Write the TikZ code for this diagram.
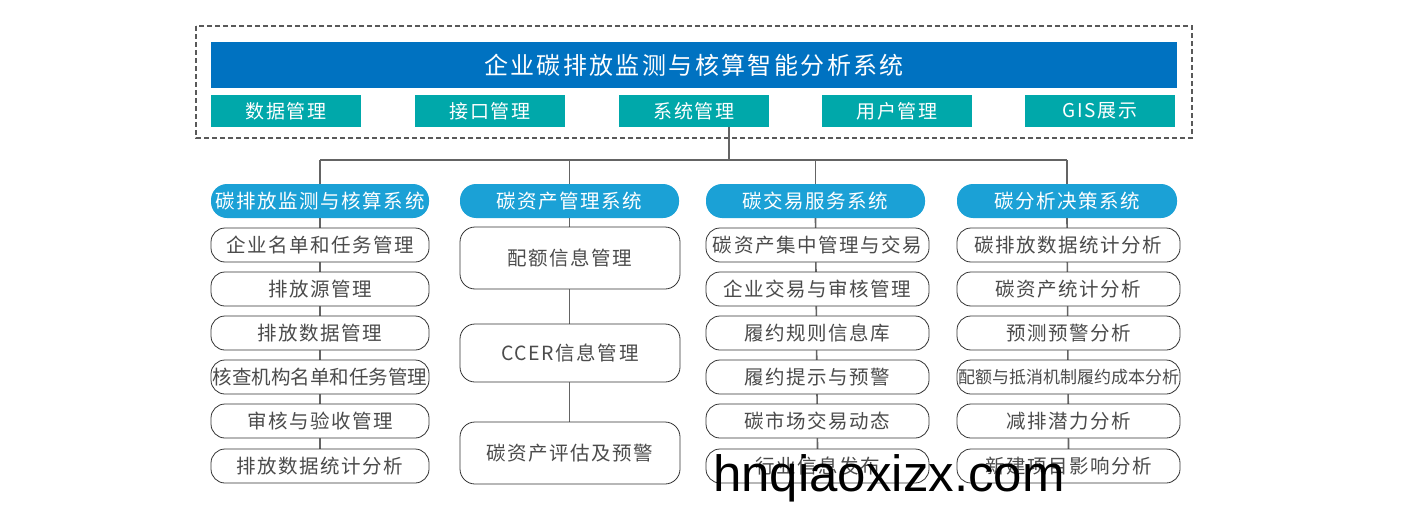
\documentclass[tikz,border=0pt]{standalone}
\usepackage{fontspec}
\setmainfont{Noto Sans CJK SC}
\newfontfamily\wmfont{Liberation Sans}
\newfontfamily\spcjk[LetterSpace=8]{Noto Sans CJK SC}
\newfontfamily\tspcjk[LetterSpace=10]{Noto Sans CJK SC}
\definecolor{titleblue}{RGB}{0,114,193}
\definecolor{tealbox}{RGB}{0,168,170}
\definecolor{headblue}{RGB}{27,161,214}
\definecolor{itemtext}{RGB}{75,75,75}
\definecolor{linegray}{RGB}{100,100,100}
\tikzset{
  titlebar/.style={fill=titleblue, text=white, inner sep=0pt, minimum width=966pt, minimum height=46pt, font=\tspcjk\fontsize{24}{24}\selectfont},
  modbox/.style={fill=tealbox, text=white, inner sep=0pt, minimum width=150pt, minimum height=32pt, font=\spcjk\fontsize{19}{19}\selectfont},
  headbox/.style={fill=headblue, text=white, inner sep=0pt, rounded corners=16pt, minimum height=34pt, font=\spcjk\fontsize{19.5}{19.5}\selectfont},
  itembox/.style={draw=black!80, line width=0.8pt, fill=white, text=itemtext, inner sep=0pt, rounded corners=14pt, minimum height=34pt, font=\spcjk\fontsize{19.5}{19.5}\selectfont},
  bigbox/.style={draw=black!80, line width=0.8pt, fill=white, text=itemtext, inner sep=0pt, rounded corners=15pt, minimum width=220pt, font=\spcjk\fontsize{19.5}{19.5}\selectfont},
  conn/.style={draw=linegray, line width=1.6pt},
  outer/.style={draw=black!65, line width=1.2pt, dash pattern=on 5pt off 3pt}
}
\begin{document}
\begin{tikzpicture}[x=1pt,y=-1pt]
\useasboundingbox (0,0) rectangle (1422,522);
\draw[outer] (196,26) rectangle (1192,138);
\node[titlebar] (title) at (694,65) {企业碳排放监测与核算智能分析系统};
\node[modbox] (m1) at (286,111) {数据管理};
\node[modbox] (m2) at (490,111) {接口管理};
\node[modbox] (m3) at (694,111) {系统管理};
\node[modbox] (m4) at (897,111) {用户管理};
\node[modbox] (m5) at (1100,111) {GIS展示};

% headers
\node[headbox, minimum width=218pt] (h1) at (320,201) {碳排放监测与核算系统};
\node[headbox, minimum width=219pt] (h2) at (569.5,201) {碳资产管理系统};
\node[headbox, minimum width=219pt] (h3) at (815.5,201) {碳交易服务系统};
\node[headbox, minimum width=220pt] (h4) at (1067,201) {碳分析决策系统};

% bus
\coordinate (bus3) at (729,160);
\draw[conn] (729,127) -- (bus3);
\draw[conn] (h1.north |- bus3) -- (h4.north |- bus3);
\foreach \h in {h1,h2,h3,h4} {\draw[conn] (\h.north |- bus3) -- (\h.north);}

% column lines (behind)
\draw[conn] (h1.south) -- (320,449);
\draw[conn] (h2.south) -- (569.5,422);
\draw[conn] (h3.south) -- (817.5,449);
\draw[conn] (h4.south) -- (1068.5,449);

% column 1
\node[itembox, minimum width=218pt] (a1) at (320,245) {企业名单和任务管理};
\node[itembox, minimum width=218pt] (a2) at (320,289) {排放源管理};
\node[itembox, minimum width=218pt] (a3) at (320,333) {排放数据管理};
\node[itembox, minimum width=218pt, font=\rmfamily\fontsize{19.5}{19.5}\selectfont] (a4) at (320,377) {核查机构名单和任务管理};
\node[itembox, minimum width=218pt] (a5) at (320,421) {审核与验收管理};
\node[itembox, minimum width=218pt] (a6) at (320,466) {排放数据统计分析};

% column 2
\node[bigbox, minimum height=62pt] (b1) at (570,258) {配额信息管理};
\node[bigbox, minimum height=58pt] (b2) at (570,353) {CCER信息管理};
\node[bigbox, minimum height=62pt] (b3) at (570,453) {碳资产评估及预警};

% column 3
\node[itembox, minimum width=223pt] (c1) at (817.5,245) {碳资产集中管理与交易};
\node[itembox, minimum width=223pt] (c2) at (817.5,289) {企业交易与审核管理};
\node[itembox, minimum width=223pt] (c3) at (817.5,333) {履约规则信息库};
\node[itembox, minimum width=223pt] (c4) at (817.5,377) {履约提示与预警};
\node[itembox, minimum width=223pt] (c5) at (817.5,421) {碳市场交易动态};
\node[itembox, minimum width=223pt] (c6) at (817.5,466) {行业信息发布};

% column 4
\node[itembox, minimum width=223pt] (d1) at (1068.5,245) {碳排放数据统计分析};
\node[itembox, minimum width=223pt] (d2) at (1068.5,289) {碳资产统计分析};
\node[itembox, minimum width=223pt] (d3) at (1068.5,333) {预测预警分析};
\node[itembox, minimum width=223pt, font=\rmfamily\fontsize{17}{17}\selectfont] (d4) at (1068.5,377) {配额与抵消机制履约成本分析};
\node[itembox, minimum width=223pt] (d5) at (1068.5,421) {减排潜力分析};
\node[itembox, minimum width=223pt] (d6) at (1068.5,466) {新建项目影响分析};

% watermark
\node[anchor=base west, inner sep=0pt, font=\wmfont\fontsize{51}{51}\selectfont, text=black] (wm) at (713,491) {hnqiaoxizx.com};
\end{tikzpicture}
\end{document}
